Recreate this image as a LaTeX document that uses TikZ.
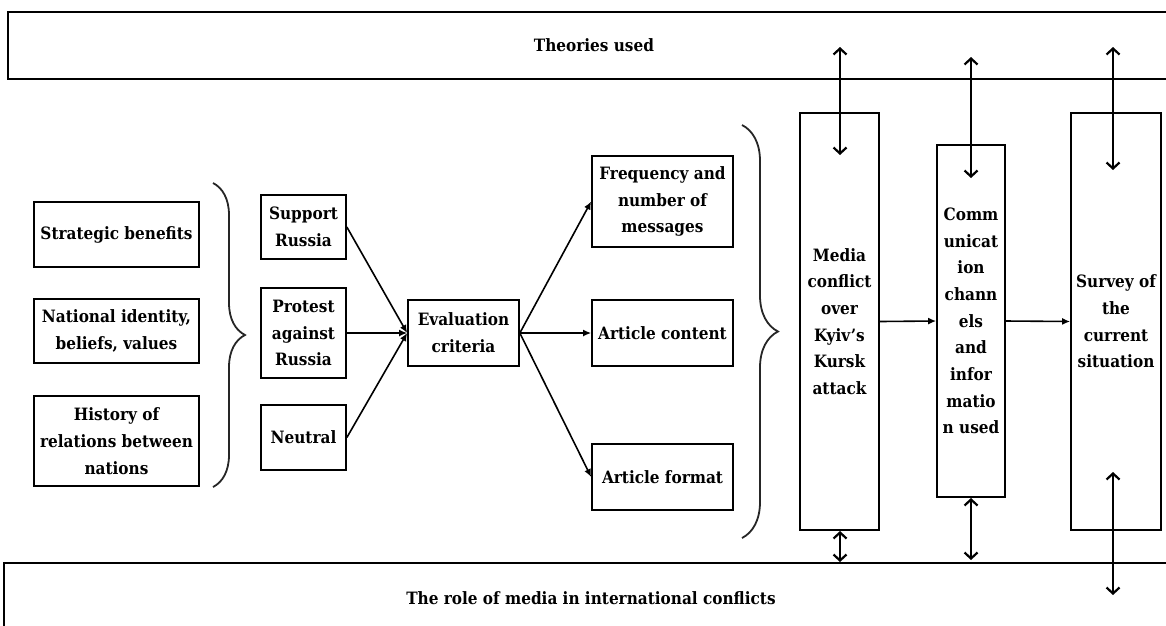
\documentclass[tikz,border=0pt]{standalone}
\usepackage{fontspec}
\setmainfont{DejaVu Serif Condensed}
\usetikzlibrary{arrows.meta,decorations.pathreplacing}
\begin{document}
\begin{tikzpicture}[x=1pt,y=-1pt,
  every node/.style={font=\fontsize{17}{26.7}\selectfont\bfseries},
  box/.style={draw,line width=1.7pt,inner sep=0pt,align=center},
  flow/.style={line width=1.6pt,-{Latex[length=8pt,width=7pt]}},
  varrow/.style={line width=2.2pt,{Straight Barb[length=6pt,width=13pt]}-{Straight Barb[length=6pt,width=13pt]}},
  bracestyle/.style={line width=1.8pt,black!85,decorate}
]
\useasboundingbox (0,0) rectangle (1166,625);
\clip (0,0) rectangle (1166,625);
% frame boxes
\node[box,minimum width=1172pt,minimum height=67pt] (top) at (594,45.5) {Theories used};
\node[box,minimum width=1174pt,minimum height=70pt] (bot) at (591,598) {The role of media in international conflicts};
% left column
\node[box,minimum width=165pt,minimum height=65pt] (strat) at (116.5,234.5) {Strategic benefits};
\node[box,minimum width=165pt,minimum height=64pt] (natid) at (116.5,331) {National identity,\\beliefs, values};
\node[box,minimum width=165pt,minimum height=90pt] (hist) at (116.5,441) {History of\\relations between\\nations};
% brace 1
\draw[bracestyle,decoration={brace,amplitude=32pt}] (213,183) -- (213,487);
% attitude boxes
\node[box,minimum width=85pt,minimum height=64pt] (supp) at (303.5,227) {Support\\Russia};
\node[box,minimum width=85pt,minimum height=90pt] (prot) at (303.5,333) {Protest\\against\\Russia};
\node[box,minimum width=85pt,minimum height=65pt] (neut) at (303.5,437.5) {Neutral};
% evaluation
\node[box,minimum width=111pt,minimum height=66pt] (eval) at (463.5,333) {Evaluation\\criteria};
% criteria
\node[box,minimum width=141pt,minimum height=91pt] (freq) at (662.5,201.5) {Frequency and\\number of\\messages};
\node[box,minimum width=141pt,minimum height=66pt] (cont) at (662.5,333) {Article content};
\node[box,minimum width=141pt,minimum height=66pt] (form) at (662.5,477) {Article format};
% brace 2
\draw[bracestyle,decoration={brace,amplitude=36pt}] (742,125) -- (742,538);
% right column
\node[box,minimum width=79pt,minimum height=417pt] (media) at (839.5,321.5) {Media\\conflict\\over\\Kyiv's\\Kursk\\attack};
\node[box,minimum width=68pt,minimum height=352pt] (comm) at (971,321) {Comm\\unicat\\ion\\chann\\els\\and\\infor\\matio\\n used};
\node[box,minimum width=90pt,minimum height=417pt] (surv) at (1116,321.5) {Survey of\\the\\current\\situation};
% connectors
\draw[flow] (supp.east) -- (eval.west);
\draw[flow] (prot.east) -- (eval.west);
\draw[flow] (neut.east) -- (eval.west);
\draw[flow] (eval.east) -- (freq.west);
\draw[flow] (eval.east) -- (cont.west);
\draw[flow] (eval.east) -- (form.west);
\draw[flow] (media.east) -- (comm.west);
\draw[flow] (comm.east) -- (surv.west);
% vertical arrows
\coordinate (m1) at (840,47);   \coordinate (m2) at (840,155);
\coordinate (c1) at (971,57);   \coordinate (c2) at (971,178);
\coordinate (s1) at (1113,47);  \coordinate (s2) at (1113,170);
\coordinate (m3) at (840,531);  \coordinate (m4) at (840,562);
\coordinate (c3) at (971,498);  \coordinate (c4) at (971,560);
\coordinate (s3) at (1113,472); \coordinate (s4) at (1113,595);
\draw[varrow] (m1) -- (m2);
\draw[varrow] (c1) -- (c2);
\draw[varrow] (s1) -- (s2);
\draw[varrow] (m3) -- (m4);
\draw[varrow] (c3) -- (c4);
\draw[varrow] (s3) -- (s4);
\end{tikzpicture}
\end{document}
